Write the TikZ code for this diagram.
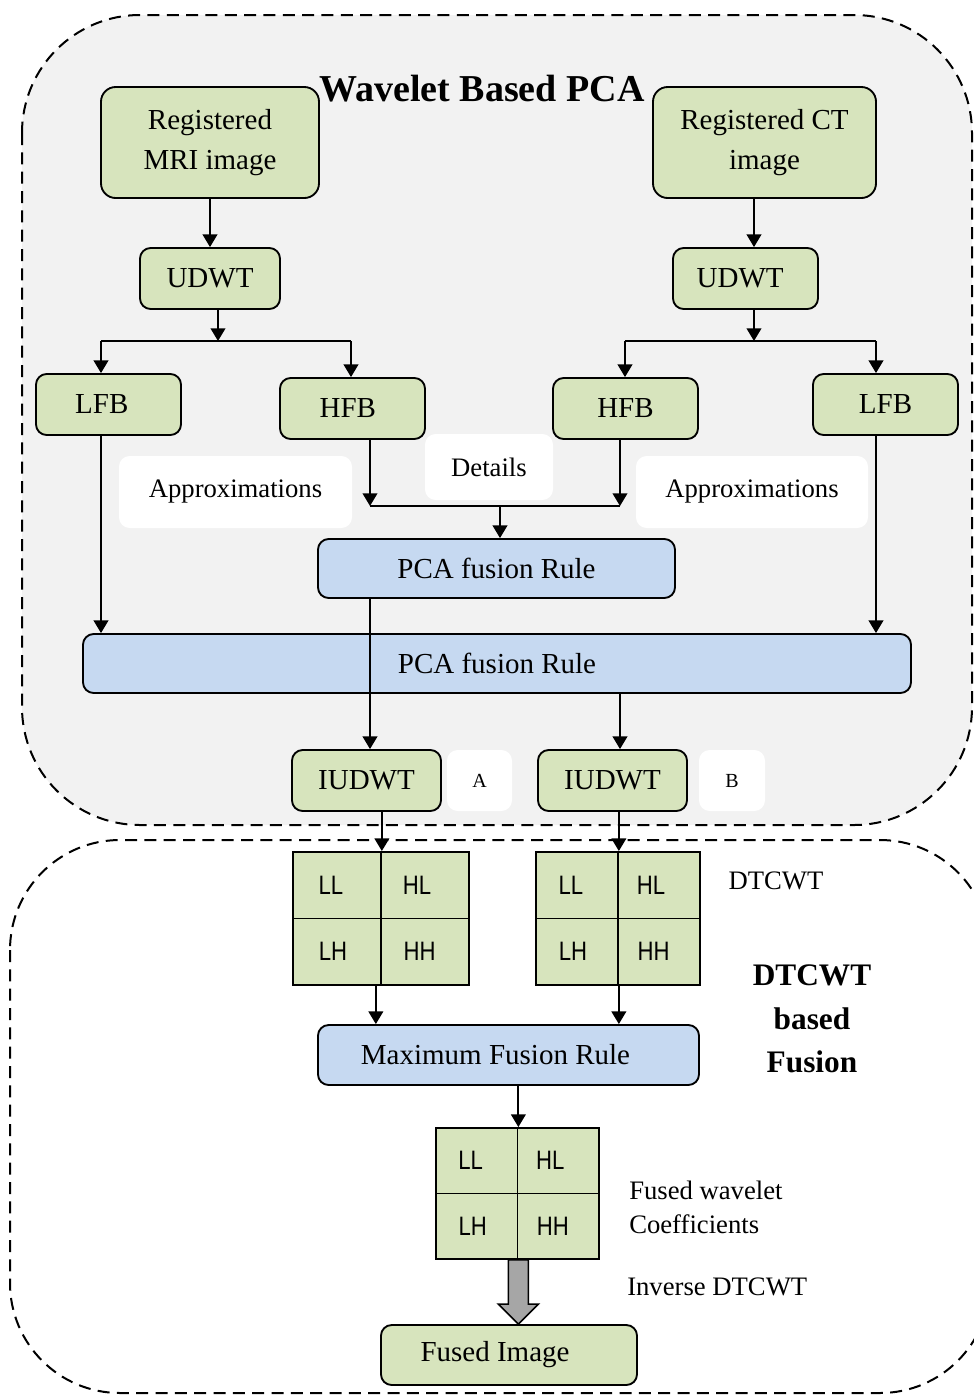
\documentclass[tikz,border=0pt]{standalone}
\usepackage{fontspec}
\setmainfont{Liberation Serif}
\newfontfamily\bandfont[FakeStretch=0.83]{Liberation Sans}
\usetikzlibrary{arrows.meta,calc}
\definecolor{boxgreen}{HTML}{D7E4BD}
\definecolor{boxblue}{HTML}{C6D9F1}
\definecolor{panelgray}{HTML}{F2F2F2}
\definecolor{arrowgray}{HTML}{A6A6A6}
\begin{document}
\begin{tikzpicture}[x=0.75pt,y=-0.75pt,
	blk/.style={draw,line width=1.4pt,rounded corners=8pt,inner sep=0pt,align=center,
		font=\fontsize{21.75}{30}\selectfont},
	grn/.style={blk,fill=boxgreen},
	blu/.style={blk,fill=boxblue},
	sz/.style 2 args={minimum width=#1*0.75pt,minimum height=#2*0.75pt},
	note/.style={fill=white,rounded corners=8pt,inner sep=0pt,font=\fontsize{20}{24}\selectfont},
	txt/.style={inner sep=0pt,font=\fontsize{20}{26}\selectfont},
	cell/.style={draw,line width=1.4pt,fill=boxgreen,inner sep=0pt,
		font=\bandfont\fontsize{20}{22}\selectfont},
	arr/.style={line width=1.4pt,-{Triangle[length=9.5pt,width=11pt]}},
	ln/.style={line width=1.4pt},
	panel/.style={line width=1.5pt,dash pattern=on 9pt off 5.5pt}]
	% four sub-bands: name, top left corner, cell width, cell height
	\def\bands#1(#2,#3)#4#5{%
		\node[cell,sz={#4}{#5},anchor=north west] (#1-ll) at (#2,#3) {LL\hspace*{9pt}};
		\node[cell,sz={#4}{#5},anchor=north west] (#1-hl) at (#2+#4,#3) {HL\hspace*{12pt}};
		\node[cell,sz={#4}{#5},anchor=north west] (#1-lh) at (#2,#3+#5) {LH\hspace*{6pt}};
		\node[cell,sz={#4}{#5},anchor=north west] (#1-hh) at (#2+#4,#3+#5) {HH\hspace*{8pt}};
	}
	\useasboundingbox (0,0) rectangle (974,1397);
	\clip (0,0) rectangle (974,1397);
	\draw[panel,fill=panelgray,rounded corners=88.5pt] (22,15) rectangle (972,825);
	\draw[panel,rounded corners=82.5pt] (10,840) rectangle (990,1393);
	% white labels
	\node[note,sz={233}{72}] (apl) at (235.5,492) {Approximations};
	\node[note,sz={128}{66}] (det) at (489,467) {Details};
	\node[note,sz={232}{72}] (apr) at (752,492) {Approximations};
	\node[note,sz={65}{61},font=\fontsize{15}{16}\selectfont] (na) at (479.5,780.5) {A};
	\node[note,sz={66}{61},font=\fontsize{15}{16}\selectfont] (nb) at (732,780.5) {B};
	\node[font=\bfseries\fontsize{28.5}{32}\selectfont,inner sep=0pt] (title) at (482,89) {Wavelet Based PCA};
	% wavelet PCA part
	\node[grn,sz={218}{111},rounded corners=11pt] (mri) at (210,142.5) {Registered\\MRI image};
	\node[grn,sz={223}{111},rounded corners=11pt] (ct) at (764.5,142.5) {Registered CT\\image};
	\node[grn,sz={140}{61}] (udl) at (210,278.5) {UDWT};
	\node[grn,sz={145}{61}] (udr) at (745.5,278.5) {UDWT\hspace*{8pt}};
	\node[grn,sz={145}{61}] (lfl) at (108.5,404.5) {LFB\hspace*{10pt}};
	\node[grn,sz={145}{61}] (hfl) at (352.5,408.5) {HFB\hspace*{7pt}};
	\node[grn,sz={145}{61}] (hfr) at (625.5,408.5) {HFB};
	\node[grn,sz={145}{61}] (lfr) at (885.5,404.5) {LFB};
	\node[blu,sz={357}{59}] (pcah) at (496.5,568.5) {PCA fusion Rule};
	\node[blu,sz={828}{59}] (pcal) at (497,663.5) {PCA fusion Rule};
	\node[grn,sz={149}{61}] (iua) at (366.5,780.5) {IUDWT};
	\node[grn,sz={149}{61}] (iub) at (612.5,780.5) {IUDWT};
	% DTCWT part
	\bands{ga}(292,851){88}{66.5}
	\bands{gb}(535,851){82}{66.5}
	\node[blu,sz={381}{60}] (max) at (508.5,1055) {Maximum Fusion Rule\hspace*{19.5pt}};
	\bands{gc}(435,1127){81.5}{65.5}
	\node[grn,sz={256}{60}] (fused) at (509,1355) {Fused Image\hspace*{21pt}};
	\node[txt] (dtc) at (776,881) {DTCWT};
	\node[txt,font=\bfseries\fontsize{23.5}{32.5}\selectfont,align=center] (fus) at (812,1019) {DTCWT\\based\\Fusion};
	\node[txt,anchor=west,align=left] (coef) at (629,1207.5) {Fused wavelet\\Coefficients};
	\node[txt,anchor=west] (inv) at (627,1287) {Inverse DTCWT};
	% split points
	\coordinate (sl) at (218,341);
	\coordinate (sr) at (754,341);
	\coordinate (bl) at (101,341);
	\coordinate (bh) at (351,341);
	\coordinate (ch) at (625,341);
	\coordinate (cl) at (876,341);
	\coordinate (dl) at (370,506);
	\coordinate (dr) at (620,506);
	\coordinate (dm) at (500,506);
	\draw[arr] (mri) -- (udl);
	\draw[arr] (ct.south -| sr) -- (udr.north -| sr);
	\draw[arr] (udl.south -| sl) -- (sl);
	\draw[arr] (udr.south -| sr) -- (sr);
	\draw[ln] (bl) -- (bh) (ch) -- (cl);
	\draw[arr] (bl) -- (lfl.north -| bl);
	\draw[arr] (bh) -- (hfl.north -| bh);
	\draw[arr] (ch) -- (hfr.north -| ch);
	\draw[arr] (cl) -- (lfr.north -| cl);
	\draw[arr] (hfl.south -| dl) -- (dl);
	\draw[arr] (hfr.south -| dr) -- (dr);
	\draw[ln] (dl) -- (dr);
	\draw[arr] (dm) -- (pcah.north -| dm);
	\draw[arr] (lfl.south -| bl) -- (pcal.north -| bl);
	\draw[arr] (lfr.south -| cl) -- (pcal.north -| cl);
	\draw[arr] (pcah.south -| dl) -- (iua.north -| dl);
	\draw[arr] (pcal.south -| dr) -- (iub.north -| dr);
	\draw[arr] (iua.south -| ga-ll.north east) -- (ga-ll.north east);
	\draw[arr] (iub.south -| gb-ll.north east) -- (gb-ll.north east);
	\coordinate (ma) at ($(ga-lh.south east)+(-6,0)$);
	\draw[arr] (ma) -- (max.north -| ma);
	\draw[arr] (gb-lh.south east) -- (max.north -| gb-lh.south east);
	\draw[arr] (max.south -| gc-ll.north east) -- (gc-ll.north east);
	% inverse DTCWT, wide grey arrow
	\coordinate (gt) at (gc-lh.south east);
	\coordinate (gh) at (fused.north -| gt);
	\draw[line width=1.2pt,fill=arrowgray] ($(gt)+(-10,0)$) -- ($(gh)+(-10,-20)$) -- ($(gh)+(-20,-20)$)
		-- (gh) -- ($(gh)+(20,-20)$) -- ($(gh)+(10,-20)$) -- ($(gt)+(10,0)$) -- cycle;
\end{tikzpicture}
\end{document}
